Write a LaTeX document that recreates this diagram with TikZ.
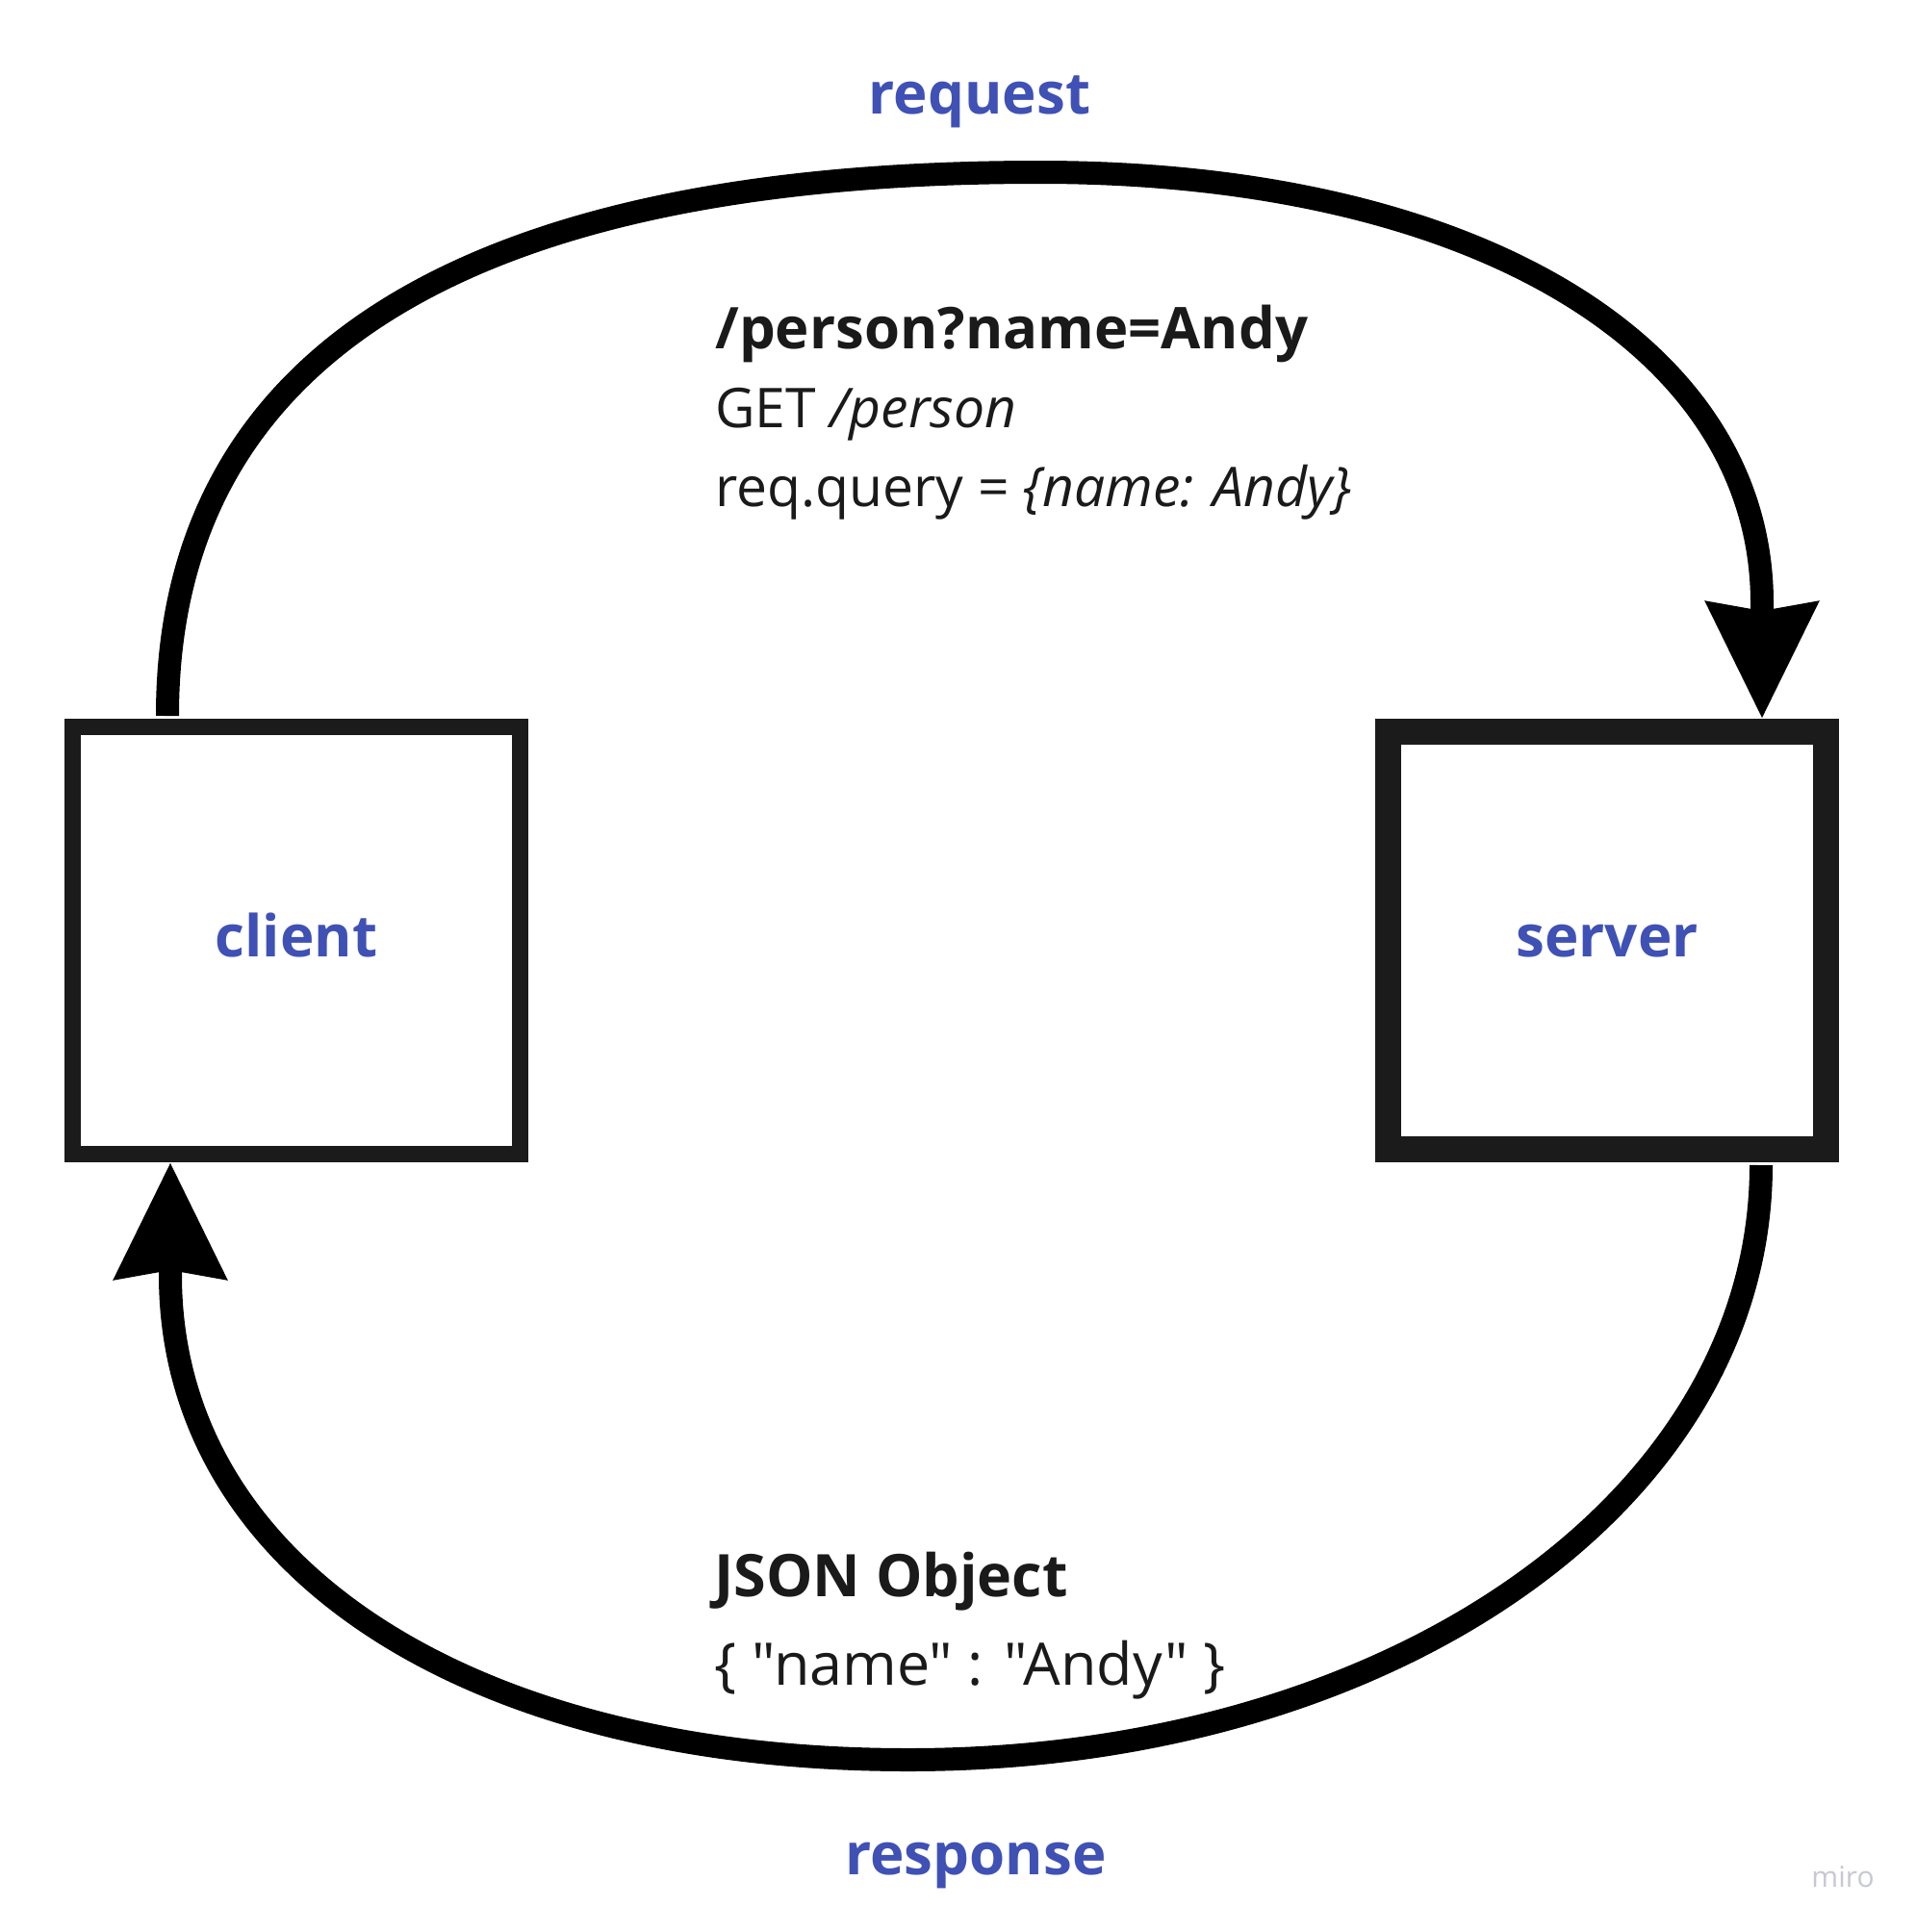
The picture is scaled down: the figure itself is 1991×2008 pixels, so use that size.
\documentclass[tikz,border=0pt]{standalone}
\usepackage{fontspec}
\setmainfont{Open Sans}[Ligatures=TeXOff]
\usetikzlibrary{arrows.meta,calc}
\definecolor{lblue}{RGB}{63,81,181}
\definecolor{boxk}{RGB}{27,27,27}
\definecolor{txtk}{RGB}{26,26,26}
\definecolor{mirog}{RGB}{200,200,212}
\begin{document}
\begin{tikzpicture}[x=0.5pt,y=-0.5pt,
  boxnode/.style={draw=boxk, fill=white, rectangle, inner sep=0pt,
    text height=16.5pt, text depth=0pt, text=lblue,
    font=\fontsize{30}{36}\selectfont\bfseries},
  lbl/.style={inner sep=0pt, text=lblue, font=\fontsize{30}{36}\selectfont\bfseries},
  body/.style={inner sep=0pt, text=txtk, font=\fontsize{28.5}{36}\selectfont},
  bodybold/.style={inner sep=0pt, text=txtk, font=\fontsize{29.9}{36}\selectfont\bfseries},
  conn/.style={line width=12pt, black, line cap=butt,
    -{Stealth[length=60pt, width=56.5pt, inset=4pt]}},
  mirotext/.style={inner sep=0pt, text=mirog, font=\fontsize{15}{17}\selectfont}
]
\useasboundingbox[fill=white] (0,0) rectangle (1991,2008);

\node[boxnode, line width=8.5pt, outer sep=4.25pt,
      minimum width=232.5pt, minimum height=222pt] (client) at (308,977.5) {client};
\node[boxnode, line width=13.5pt, outer sep=6.75pt,
      minimum width=227.5pt, minimum height=217pt] (server) at (1670,977.5) {server};

% request connector
\draw[conn] ($(client.north west)+(107,-3)$)
  .. controls (174,371) and (482,179) .. (1080,179)
  .. controls (1530,179) and (1831,358) .. (1831,627)
  -- ($(server.north west)+(402,0)$);

% response connector
\draw[conn] ($(server.south west)+(401,3)$)
  .. controls (1830,1561) and (1444,1829) .. (944,1829)
  .. controls (484,1829) and (177,1627) .. (177,1325)
  -- ($(client.south west)+(110,0)$);

\node[lbl, anchor=base] (req) at (1018,118) {request};
\node[lbl, anchor=base] (resp) at (1014,1948) {response};

\node[bodybold, anchor=base west] (q1) at (743,362) {/person?name=Andy};
\node[body, anchor=base west] (q2) at (743,444) {GET \textit{/person}};
\node[body, anchor=base west] (q3) at (743,526) {req.query = \textit{\{name: Andy\}}};

\node[bodybold, font=\fontsize{30.5}{36}\selectfont\bfseries, anchor=base west] (j1) at (742,1659) {JSON Object};
\node[body, font=\fontsize{30.5}{36}\selectfont, anchor=base west] (j2) at (742,1751) {\{ "name" : "Andy" \}};

\node[mirotext, anchor=base west] (miro) at (1882,1961) {miro};
\end{tikzpicture}
\end{document}
